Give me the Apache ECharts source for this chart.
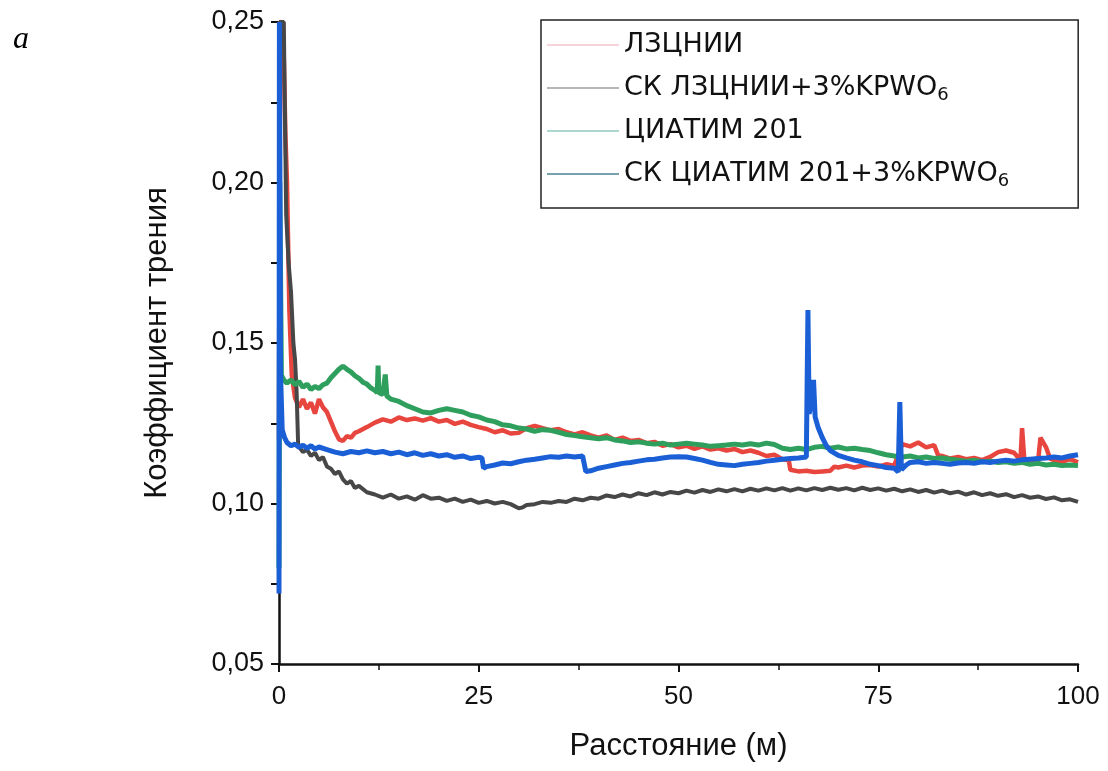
<!DOCTYPE html>
<html><head><meta charset="utf-8">
<script src="https://cdn.jsdelivr.net/npm/echarts@6/dist/echarts.min.js"></script>
<style>html,body{margin:0;padding:0;background:#fff}#c{width:1108px;height:771px}</style>
</head><body><div id="c"></div>
<script>
const seriesNames = ['ЛЗЦНИИ', 'СК ЛЗЦНИИ+3%KPWO6', 'ЦИАТИМ 201', 'СК ЦИАТИМ 201+3%KPWO6'];
const xTicks = [0, 25, 50, 75, 100];
const yTicks = [0.05, 0.10, 0.15, 0.20, 0.25];

const redX = [0,0.1,0.5,0.8,1,1.3,1.6,2,2.5,3,3.5,4,4.5,5,5.5,6,6.5,7,7.5,8,8.5,9,9.5,10,11,12,13,14,15,16,17,18,19,20,21,22,23,24,25,26,27,28,29,30,31,32,33,34,35,36,37,38,39,40,41,42,43,44,45,46,47,48,49,50,51,52,53,54,55,56,57,58,59,60,61,62,63,63.8,64,65,66,67,68,69,69.5,70,71,72,73,74,75,76,77,78,79,80,81,82,82.5,83,84,85,86,87,88,89,90,91,92,92.8,93,93.3,94,95,95.3,96,96.5,97,98,99,100];
const redY = [0.12,0.25,0.25,0.215,0.2,0.16,0.14,0.133,0.13,0.1325,0.1295,0.1315,0.128,0.1325,0.13,0.1285,0.1255,0.1225,0.12,0.1195,0.121,0.1205,0.122,0.1225,0.1238,0.1252,0.1262,0.1255,0.1268,0.126,0.1265,0.1258,0.1266,0.1255,0.126,0.1248,0.1255,0.1245,0.1238,0.1232,0.1222,0.1228,0.1218,0.122,0.1235,0.1242,0.1235,0.1228,0.1232,0.1222,0.1215,0.1222,0.1212,0.1205,0.1212,0.1198,0.1205,0.1195,0.1198,0.1188,0.1192,0.118,0.1185,0.1175,0.118,0.117,0.1178,0.1168,0.1172,0.1165,0.117,0.116,0.1165,0.1158,0.1148,0.1152,0.1138,0.1135,0.1105,0.11,0.1102,0.1098,0.11,0.1102,0.1115,0.1112,0.1118,0.1112,0.1118,0.112,0.1115,0.1122,0.1118,0.1185,0.1178,0.119,0.1175,0.1182,0.115,0.1148,0.114,0.1145,0.1138,0.1142,0.1135,0.1145,0.116,0.1165,0.1158,0.1135,0.1235,0.113,0.1138,0.113,0.1205,0.1175,0.114,0.1135,0.113,0.1138,0.1128];

const grayX = [0,0.1,0.6,0.9,1.2,1.5,1.8,2,2.2,2.4,2.6,3,3.5,4,4.5,5,5.5,6,6.5,7,7.5,8,8.5,9,9.5,10,11,12,13,14,15,16,17,18,19,20,21,22,23,24,25,26,27,28,29,30,30.5,31,32,33,34,35,36,37,38,39,40,41,42,43,44,45,46,47,48,49,50,51,52,53,54,55,56,57,58,59,60,61,62,63,64,65,66,67,68,69,70,71,72,73,74,75,76,77,78,79,80,81,82,83,84,85,86,87,88,89,90,91,92,93,94,95,96,97,98,99,100];
const grayY = [0.1,0.25,0.25,0.19,0.175,0.166,0.15,0.145,0.135,0.118,0.1175,0.116,0.1168,0.1148,0.1158,0.1135,0.1145,0.1115,0.1108,0.1092,0.11,0.1075,0.1062,0.107,0.1048,0.1055,0.1035,0.1028,0.1018,0.1028,0.1015,0.1022,0.1012,0.1026,0.1015,0.1018,0.1008,0.1015,0.1005,0.1012,0.1002,0.1008,0.1,0.1005,0.0998,0.0985,0.0988,0.0995,0.0998,0.1005,0.1002,0.1008,0.1005,0.1015,0.101,0.1018,0.1015,0.1025,0.102,0.1028,0.1022,0.1032,0.1026,0.1035,0.1028,0.1036,0.1032,0.104,0.1034,0.1042,0.1036,0.1044,0.1038,0.1045,0.1038,0.1046,0.104,0.1047,0.1041,0.1048,0.104,0.1047,0.1041,0.1048,0.1042,0.1049,0.1043,0.1048,0.1041,0.1049,0.1042,0.1047,0.104,0.1046,0.1038,0.1044,0.1036,0.1042,0.1034,0.104,0.1032,0.1037,0.1028,0.1035,0.1026,0.1032,0.1024,0.1029,0.102,0.1026,0.1018,0.1022,0.1014,0.1019,0.101,0.1013,0.1005];

const greenX = [0,0.1,0.3,0.6,1,1.5,2,2.5,3,3.5,4,4.5,5,5.5,6,6.5,7,7.5,8,8.5,9,9.5,10,10.5,11,11.5,12,12.3,12.4,12.5,13,13.3,13.5,14,15,16,17,18,19,20,21,22,23,24,25,26,27,28,29,30,31,32,33,34,35,36,37,38,39,40,41,42,43,44,45,46,47,48,49,50,51,52,53,54,55,56,57,58,59,60,61,62,63,64,65,66,67,68,69,70,71,72,73,74,75,76,77,78,79,80,81,82,83,84,85,86,87,88,89,90,91,92,93,94,95,96,97,98,99,100];
const greenY = [0.08,0.2,0.14,0.1385,0.1375,0.1385,0.137,0.138,0.1362,0.1372,0.1355,0.1365,0.1358,0.137,0.1375,0.1392,0.1405,0.1418,0.1428,0.1418,0.141,0.1398,0.139,0.1378,0.1372,0.136,0.1352,0.1345,0.143,0.1345,0.134,0.1402,0.1335,0.1325,0.1318,0.1305,0.1295,0.1285,0.1282,0.129,0.1295,0.129,0.1285,0.1275,0.127,0.126,0.1255,0.1245,0.1242,0.1235,0.1232,0.1225,0.123,0.1228,0.1222,0.1215,0.1212,0.1208,0.1205,0.1202,0.1205,0.1198,0.1195,0.119,0.1192,0.1188,0.1185,0.1188,0.1182,0.1185,0.1188,0.1185,0.1182,0.1178,0.118,0.1182,0.1185,0.1182,0.1186,0.1182,0.1188,0.1184,0.1172,0.1168,0.1172,0.1168,0.1175,0.1178,0.1172,0.1176,0.117,0.1172,0.1168,0.1165,0.1158,0.1152,0.1148,0.1145,0.1148,0.1142,0.1145,0.114,0.1142,0.1138,0.1135,0.1132,0.1135,0.113,0.1132,0.1128,0.113,0.1125,0.1128,0.1122,0.1125,0.112,0.1122,0.1118,0.112,0.1118];

const blueX = [0,0.05,0.2,0.4,0.7,1,1.5,2,2.5,3,3.5,4,4.5,5,6,7,8,9,10,11,12,13,14,15,16,17,18,19,20,21,22,23,24,25,25.4,25.6,26,27,28,29,30,31,32,33,34,35,36,37,38,38.2,38.4,39,40,41,42,43,44,45,46,47,48,49,50,51,52,53,54,55,56,57,58,59,60,61,62,63,64,65,66,66.2,66.35,66.6,66.9,67.1,67.5,68,68.5,69,70,71,72,73,74,75,76,77,77.5,77.7,77.9,78.5,79,80,81,82,83,84,85,86,87,88,89,90,91,92,93,94,95,96,97,98,99,100];
const blueY = [0.072,0.25,0.14,0.123,0.1205,0.119,0.118,0.1185,0.1175,0.1182,0.1172,0.118,0.117,0.1176,0.1168,0.116,0.1155,0.1162,0.1158,0.1164,0.1158,0.1162,0.1155,0.116,0.1152,0.1158,0.115,0.1155,0.1148,0.1152,0.1144,0.1148,0.114,0.1144,0.1142,0.111,0.1115,0.112,0.1126,0.1124,0.113,0.1135,0.1138,0.1142,0.1146,0.1144,0.1148,0.1145,0.1148,0.1145,0.11,0.1102,0.111,0.1115,0.112,0.1125,0.1128,0.1132,0.1136,0.1138,0.1142,0.1145,0.1146,0.1145,0.114,0.1135,0.1128,0.1122,0.112,0.1118,0.1122,0.1125,0.1128,0.1132,0.1135,0.1138,0.114,0.1142,0.1145,0.1603,0.128,0.131,0.1385,0.127,0.1235,0.1205,0.118,0.1165,0.115,0.1142,0.1135,0.113,0.1122,0.1118,0.1112,0.111,0.1098,0.1316,0.1105,0.112,0.1128,0.113,0.1125,0.1128,0.1125,0.1122,0.1126,0.1128,0.1125,0.113,0.1128,0.1132,0.1135,0.1132,0.1136,0.1138,0.114,0.1142,0.1145,0.1142,0.1148,0.1152];

const lineColors = ['#e8453f', '#474747', '#2f9f5d', '#1b5fd6'];
const lineWidths = [4.5, 4, 5, 5];
const legendColors = ['#f2c6cc', '#9ba1a4', '#8fcac0', '#4e7f92'];

function pairs(xs, ys) { return xs.map((x, i) => [x, ys[i]]); }
const allData = [pairs(redX, redY), pairs(grayX, grayY), pairs(greenX, greenY), pairs(blueX, blueY)];

function legendLabel(name) {
  if (name.endsWith('KPWO6')) return name.slice(0, -1) + '{sub|6}';
  return name;
}

const chart = echarts.init(document.getElementById('c'), null, {renderer: 'canvas'});
const axisFont = 'Liberation Sans, Arial, sans-serif';
const legendFont = 'DejaVu Sans, Liberation Sans, sans-serif';
chart.setOption({
  backgroundColor: '#fff',
  animation: false,
  grid: {left: 279, right: 30, top: 22, bottom: 107, containLabel: false},
  graphic: [{type: 'text', left: 13, top: 24, style: {text: 'a', font: 'italic 32px "Liberation Serif", serif', fill: '#000'}}],
  legend: {
    orient: 'vertical', left: 541, top: 20,
    data: seriesNames.map((n, i) => ({name: n, itemStyle: {color: legendColors[i]}, lineStyle: {color: legendColors[i], width: 1.5}})),
    icon: 'rect', itemWidth: 72, itemHeight: 1.5, itemGap: 11,
    borderColor: '#222', borderWidth: 1.5, borderRadius: 0,
    padding: [9, 69, 18, 6],
    formatter: legendLabel,
    textStyle: {fontFamily: legendFont, fontSize: 27, color: '#111', lineHeight: 32,
      rich: {sub: {fontFamily: legendFont, fontSize: 18, verticalAlign: 'bottom', padding: [14, 0, 0, 0], lineHeight: 32}}}
  },
  xAxis: {
    type: 'value', min: 0, max: 100, interval: 25,
    name: 'Расстояние (м)', nameLocation: 'middle', nameGap: 67,
    nameTextStyle: {fontFamily: axisFont, fontSize: 31, color: '#111'},
    axisLine: {show: true, lineStyle: {color: '#111', width: 2.5}, onZero: false},
    axisTick: {show: true, length: 8, lineStyle: {color: '#111', width: 2}},
    minorTick: {show: true, splitNumber: 2, length: 6, lineStyle: {color: '#111', width: 1.5}},
    axisLabel: {fontFamily: axisFont, fontSize: 26, color: '#111', margin: 20},
    splitLine: {show: false}
  },
  yAxis: {
    type: 'value', min: 0.05, max: 0.25, interval: 0.05,
    name: 'Коэффициент трения', nameLocation: 'middle', nameGap: 106,
    nameTextStyle: {fontFamily: axisFont, fontSize: 31, color: '#111'},
    axisLine: {show: true, lineStyle: {color: '#111', width: 2.5}, onZero: false},
    axisTick: {show: true, length: 8, lineStyle: {color: '#111', width: 2}},
    minorTick: {show: true, splitNumber: 2, length: 8, lineStyle: {color: '#111', width: 2}},
    axisLabel: {fontFamily: axisFont, fontSize: 27, color: '#111', margin: 15,
      formatter: v => yTicks.some(t => Math.abs(t - v) < 1e-9) ? v.toFixed(2).replace('.', ',') : ''},
    splitLine: {show: false}
  },
  series: seriesNames.map((n, i) => ({
    name: n, type: 'line', data: allData[i], showSymbol: false, symbol: 'none',
    lineStyle: {color: lineColors[i], width: lineWidths[i]}, itemStyle: {color: lineColors[i]},
    clip: true
  }))
});
</script></body></html>
